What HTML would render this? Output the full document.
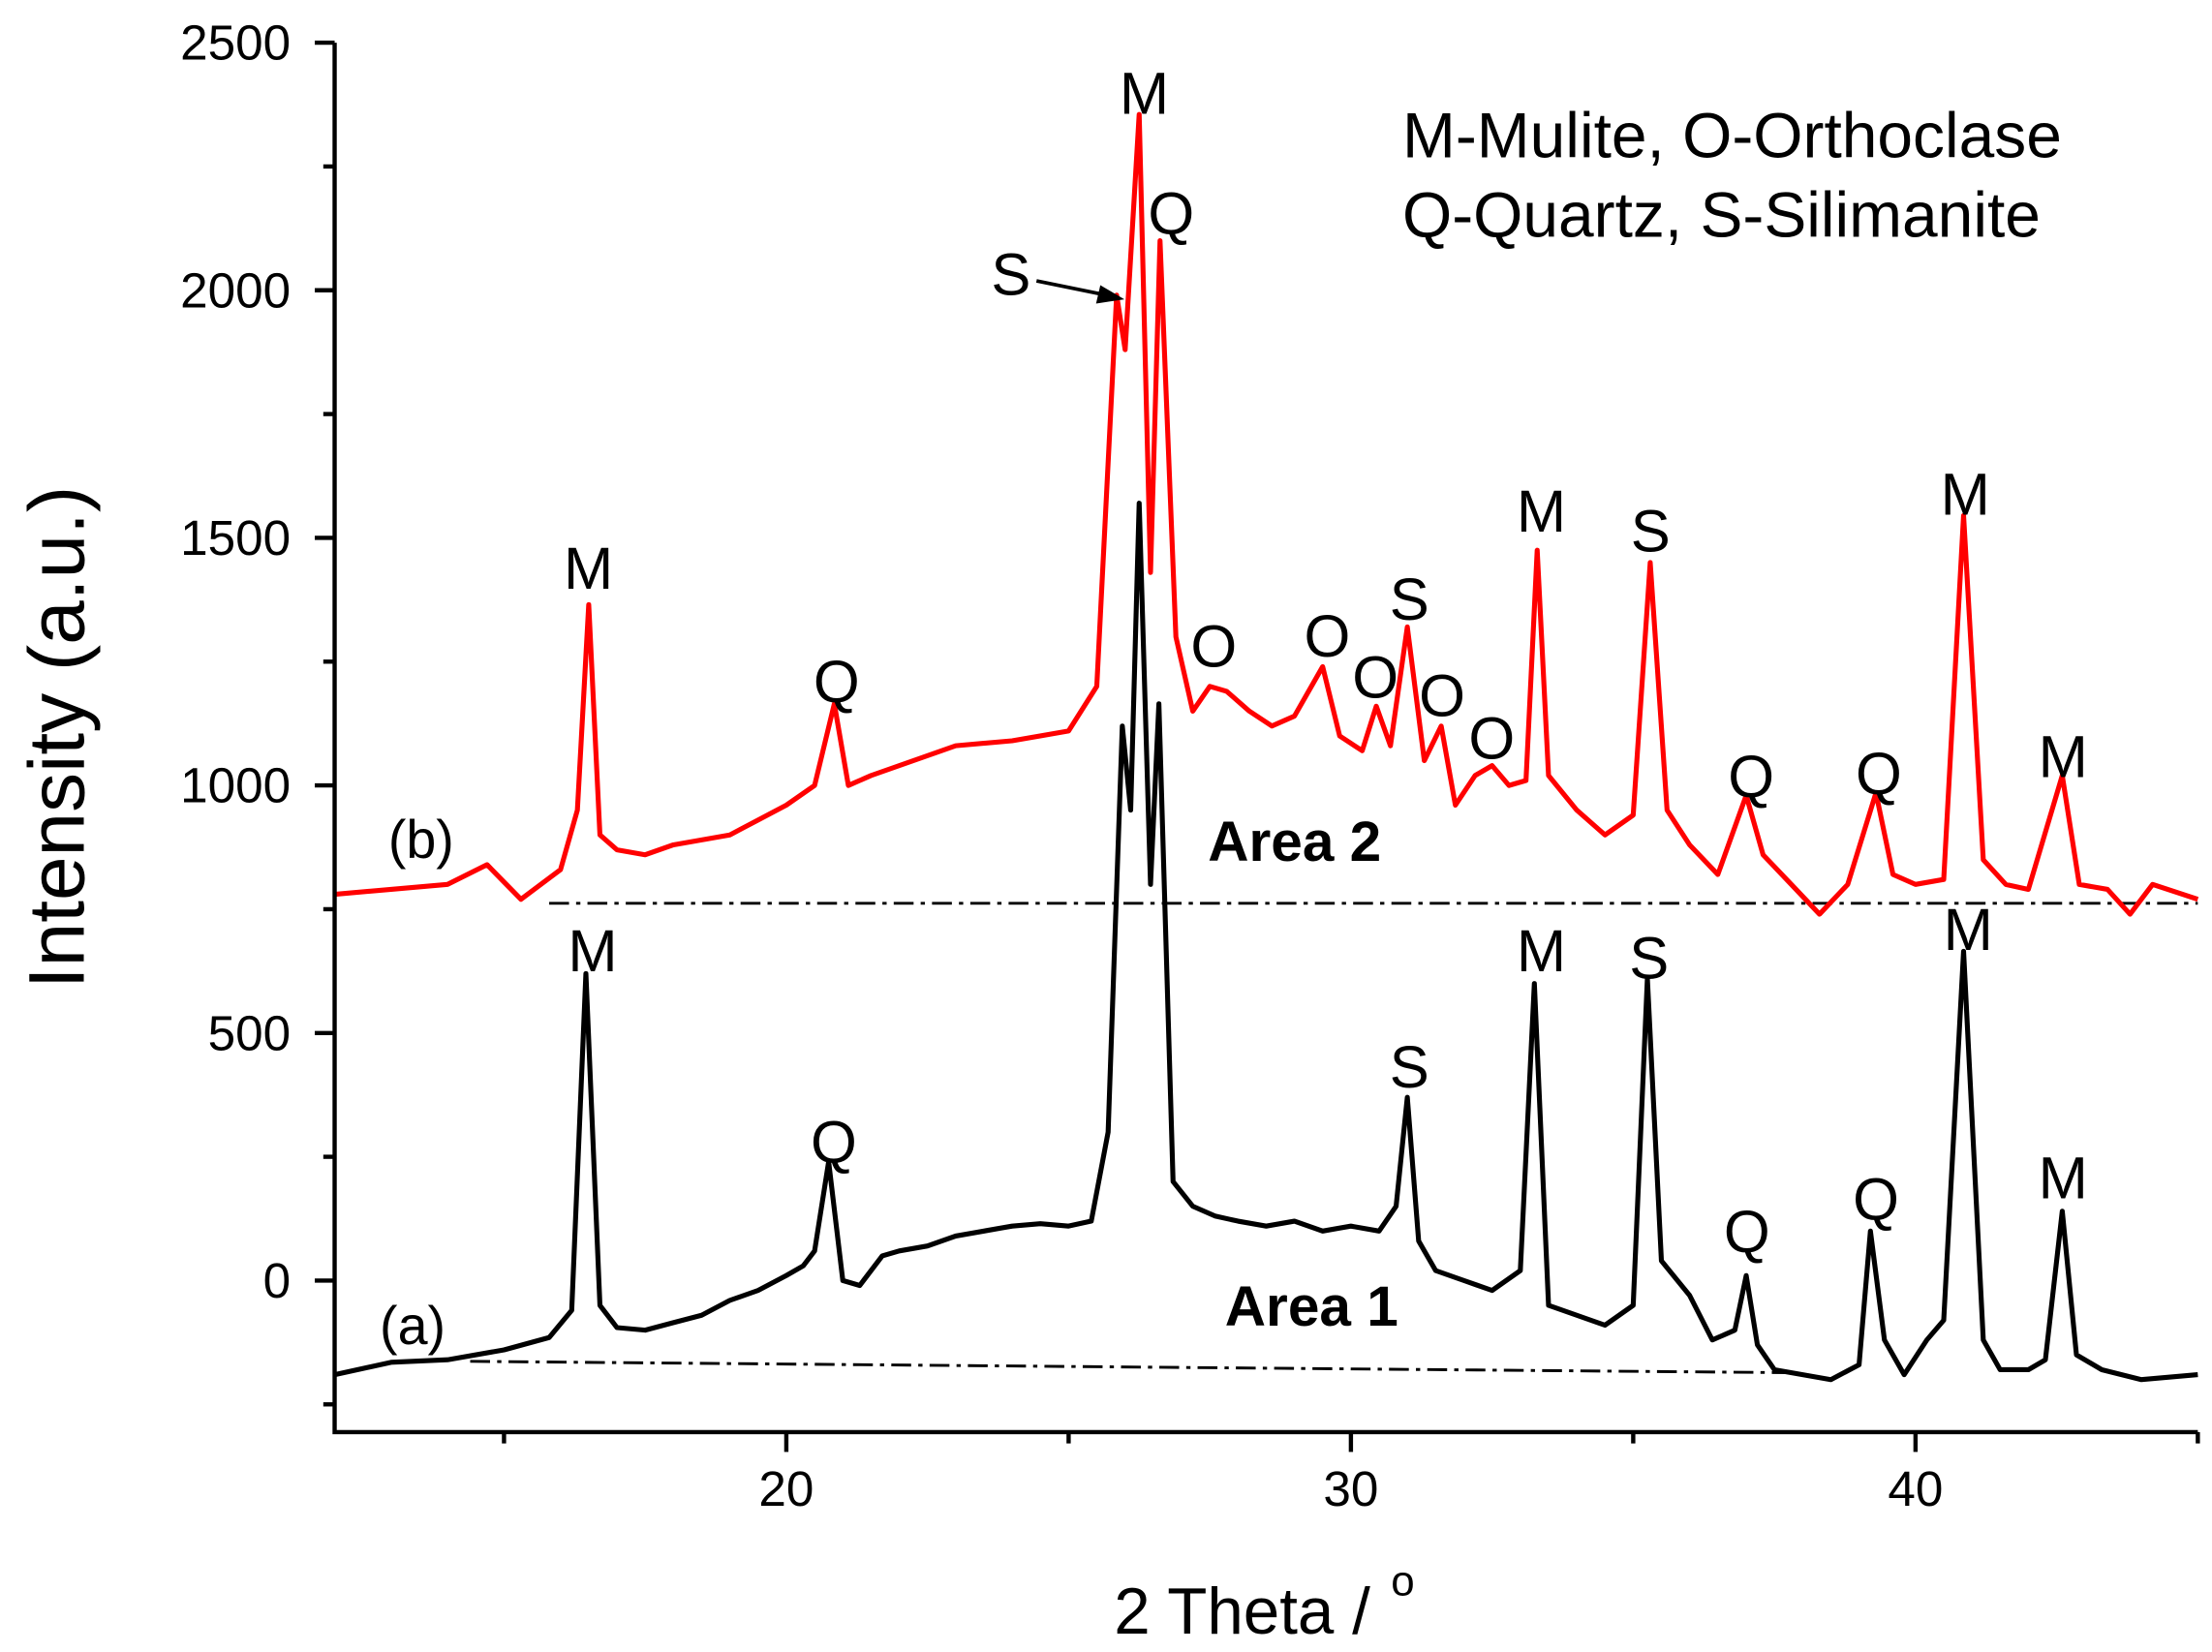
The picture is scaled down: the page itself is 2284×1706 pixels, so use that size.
<!DOCTYPE html>
<html><head><meta charset="utf-8"><style>
html,body{margin:0;padding:0;background:#fff;}
svg{display:block;font-family:"Liberation Sans",Arial,sans-serif;}
</style></head><body>
<svg id="chart" width="2284" height="1706" viewBox="0 0 1560 1165" xmlns="http://www.w3.org/2000/svg">
<rect x="0" y="0" width="1560" height="1165" fill="#fff"/>
<g id="marks"></g>
<g id="axes"></g>
<g id="labels"></g>
</svg>
<script>
const seriesA_x = [12,13,14,15,15.8,16.2,16.45,16.7,17,17.5,18,18.5,19,19.5,20,20.3,20.5,20.75,21.0,21.3,21.7,22,22.5,23,23.5,24,24.5,25,25.4,25.7,25.95,26.1,26.25,26.45,26.6,26.85,27.2,27.6,28,28.5,29,29.5,30,30.5,30.8,31.0,31.2,31.5,32,32.5,33.0,33.25,33.5,34,34.5,35,35.25,35.5,36,36.4,36.8,37.0,37.2,37.5,38,38.5,39,39.2,39.45,39.8,40.2,40.5,40.85,41.2,41.5,42,42.3,42.6,42.85,43.3,44,45];
const seriesA_y = [-190,-165,-160,-140,-115,-60,620,-50,-95,-100,-85,-70,-40,-20,10,30,60,240,0,-10,50,60,70,90,100,110,115,110,120,300,1120,950,1570,800,1165,200,150,130,120,110,120,100,110,100,150,370,80,20,0,-20,20,600,-50,-70,-90,-50,610,40,-30,-120,-100,10,-130,-180,-190,-200,-170,100,-120,-190,-120,-80,665,-120,-180,-180,-160,140,-150,-180,-200,-190];
const seriesB_x = [12,13,14,14.7,15.3,16.0,16.3,16.5,16.7,17,17.5,18,19,19.5,20,20.5,20.85,21.1,21.5,22,22.5,23,24,25,25.5,25.85,26.0,26.25,26.45,26.62,26.9,27.2,27.5,27.8,28.2,28.6,29,29.5,29.8,30.2,30.45,30.7,31.0,31.3,31.6,31.85,32.2,32.5,32.8,33.1,33.3,33.5,34,34.5,35,35.3,35.6,36,36.5,37.0,37.3,37.8,38.3,38.8,39.3,39.6,40,40.5,40.85,41.2,41.6,42,42.6,42.9,43.4,43.8,44.2,45];
const seriesB_y = [780,790,800,840,770,830,950,1365,900,870,860,880,900,930,960,1000,1165,1000,1020,1040,1060,1080,1090,1110,1200,1990,1880,2355,1430,2100,1300,1150,1200,1190,1150,1120,1140,1240,1100,1070,1160,1080,1320,1050,1120,960,1020,1040,1000,1010,1475,1020,950,900,940,1450,950,880,820,980,860,800,740,800,985,820,800,810,1545,850,800,790,1020,800,790,740,800,770];
const baseA_x = [14.4,37.8];
const baseA_y = [-163,-186];
const baseB_x = [15.8,45];
const baseB_y = [762,762];
const yTicks = [0,500,1000,1500,2000,2500];
const xTicks = [20,30,40];

const X0=236,X1=1550,Y0=30,Y1=1010, xMin=12,xMax=45,yMin=-306,yMax=2500;
const sx=v=>X0+(v-xMin)/(xMax-xMin)*(X1-X0);
const sy=v=>Y1-(v-yMin)/(yMax-yMin)*(Y1-Y0);
const NS="http://www.w3.org/2000/svg";
function mk(tag,attrs,parent){const e=document.createElementNS(NS,tag);for(const k in attrs)e.setAttribute(k,attrs[k]);parent.appendChild(e);return e;}
const marks=document.getElementById('marks'),axes=document.getElementById('axes'),labels=document.getElementById('labels');
function pts(xs,ys){return xs.map((x,i)=>sx(x).toFixed(1)+','+sy(ys[i]).toFixed(1)).join(' ');}

let e;
e=mk('polyline',{points:pts(baseA_x,baseA_y),fill:'none',stroke:'#000','stroke-width':2,'stroke-dasharray':'14,5,3,5'},marks);


e=mk('polyline',{points:pts(baseB_x,baseB_y),fill:'none',stroke:'#000','stroke-width':2,'stroke-dasharray':'14,5,3,5'},marks);


e=mk('polyline',{points:pts(seriesA_x,seriesA_y),fill:'none',stroke:'#000','stroke-width':3.5,'stroke-linejoin':'round'},marks);


e=mk('polyline',{points:pts(seriesB_x,seriesB_y),fill:'none',stroke:'#ff0000','stroke-width':3.5,'stroke-linejoin':'round'},marks);



e=mk('path',{d:`M${X0},${Y0} V${Y1} H${X1}`,fill:'none',stroke:'#000','stroke-width':3},axes);


for(let v=-250;v<=2500;v+=250){
  const major=v%500===0;
  e=mk('line',{x1:X0-(major?14:8),x2:X0,y1:sy(v),y2:sy(v),stroke:'#000','stroke-width':3},axes);
  
  
}
yTicks.forEach(v=>{
  e=mk('text',{x:205,y:sy(v)+12,'text-anchor':'end','font-size':35},axes);e.textContent=v;
  
  
});
for(let v=15;v<=45;v+=5){
  const major=v%10===0;
  e=mk('line',{x1:sx(v),x2:sx(v),y1:Y1,y2:Y1+(major?14:8),stroke:'#000','stroke-width':3},axes);
  
  
}
xTicks.forEach(v=>{
  e=mk('text',{x:sx(v),y:1062,'text-anchor':'middle','font-size':35},axes);e.textContent=v;
  
  
});
e=mk('text',{x:876,y:1152,'text-anchor':'middle','font-size':46},axes);e.textContent='2 Theta /';


e=mk('text',{x:981,y:1125,'font-size':30},axes);e.textContent='o';


e=mk('text',{x:0,y:0,'text-anchor':'middle','font-size':56,transform:'translate(59,520) rotate(-90)'},axes);e.textContent='Intensity (a.u.)';



const peak=[['M',415,400],['Q',590,480],['S',713,193],['M',807,65],['Q',826,150],['O',856,455],['O',936,448],['O',970,477],['S',994,422],['O',1017,490],['O',1052,520],['M',1087,360],['S',1164,374],['Q',1235,547],['Q',1325,545],['M',1386,348],['M',1455,533],
['M',418,670],['Q',588,805],['S',994,752],['M',1087,670],['S',1163,675],['Q',1232,868],['Q',1323,845],['M',1388,655],['M',1455,830]];
peak.forEach(p=>{
  e=mk('text',{x:p[1],y:p[2]+15,'text-anchor':'middle','font-size':42},labels);e.textContent=p[0];
  
  
});
e=mk('line',{x1:731,y1:198,x2:780,y2:208,stroke:'#000','stroke-width':2.5},labels);


e=mk('polygon',{points:'793,211 776,201 773,214',fill:'#000'},labels);


[['(a)',291,948,38,'normal'],['(b)',297,605,38,'normal'],['Area 2',913,607,40,'bold'],['Area 1',925,935,40,'bold']].forEach(t=>{
  e=mk('text',{x:t[1],y:t[2],'text-anchor':'middle','font-size':t[3],'font-weight':t[4]},labels);e.textContent=t[0];
  
  
});
e=mk('text',{x:989,y:111,'font-size':45},labels);e.textContent='M-Mulite, O-Orthoclase';


e=mk('text',{x:989,y:167,'font-size':45},labels);e.textContent='Q-Quartz, S-Silimanite';


</script>
</body></html>
